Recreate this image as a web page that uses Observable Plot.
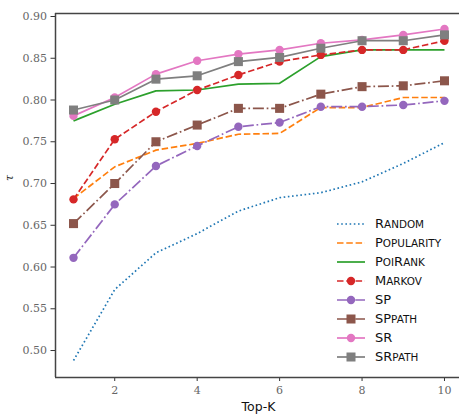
<!DOCTYPE html>
<html>
<head>
<meta charset="utf-8">
<script src="https://cdn.jsdelivr.net/npm/d3@7"></script>
<script src="https://cdn.jsdelivr.net/npm/@observablehq/plot@0.6"></script>
<style>
  body { margin: 0; background: white; }
  #wrap { position: relative; width: 459px; height: 415px; overflow: hidden; }
  #wrap svg text { font-family: "DejaVu Serif", serif !important; }
  .legend { position: absolute; left: 336px; top: 214px; font-family: "DejaVu Sans", sans-serif; font-size: 13px; color: #111; white-space: nowrap; }
  .legend .row { display: flex; align-items: center; height: 19px; }
  .legend svg { margin-right: 9px; }
  .legend .sc { font-size: 10.4px; }
  .xlabel { position: absolute; left: 0; width: 517px; top: 399px; text-align: center; font-family: "DejaVu Sans", sans-serif; font-size: 12.5px; color: #111; }
  .ylabel { position: absolute; left: 7px; top: 172px; line-height: 12px; font-family: "DejaVu Serif", serif; font-style: italic; font-size: 11px; transform: rotate(-90deg); transform-origin: center; color: #222; }
</style>
</head>
<body>
<div id="wrap"></div>
<script>
const K = [1, 2, 3, 4, 5, 6, 7, 8, 9, 10];
const seriesNames = ["Random", "Popularity", "PoiRank", "Markov", "SP", "SPpath", "SR", "SRpath"];
const random     = [0.488, 0.573, 0.617, 0.640, 0.667, 0.683, 0.689, 0.702, 0.724, 0.749];
const popularity = [0.682, 0.720, 0.740, 0.748, 0.759, 0.760, 0.791, 0.791, 0.803, 0.803];
const poiRank    = [0.775, 0.795, 0.811, 0.812, 0.819, 0.820, 0.852, 0.860, 0.860, 0.860];
const markov     = [0.681, 0.753, 0.786, 0.812, 0.830, 0.846, 0.854, 0.860, 0.860, 0.871];
const sp         = [0.611, 0.675, 0.721, 0.745, 0.768, 0.773, 0.792, 0.792, 0.794, 0.799];
const spPath     = [0.652, 0.700, 0.750, 0.770, 0.790, 0.790, 0.807, 0.816, 0.817, 0.823];
const sr         = [0.781, 0.803, 0.831, 0.847, 0.855, 0.860, 0.868, 0.872, 0.878, 0.885];
const srPath     = [0.788, 0.800, 0.825, 0.829, 0.846, 0.851, 0.862, 0.871, 0.871, 0.878];
const xTicks = [2, 4, 6, 8, 10];
const yTicks = [0.50, 0.55, 0.60, 0.65, 0.70, 0.75, 0.80, 0.85, 0.90];

const values = [random, popularity, poiRank, markov, sp, spPath, sr, srPath];
const colors = ["#1f77b4", "#ff7f0e", "#2ca02c", "#d62728", "#9467bd", "#8c564b", "#e377c2", "#7f7f7f"];
const dashes = ["1.6,2.6", "6.5,2.8", null, "6.5,2.8", "11,2.8,1.7,2.8", "11,2.8,1.7,2.8", null, null];
const markers = [null, null, null, "circle", "circle", "square", "circle", "square"];

const xDomain = [0.563, 10.364];
const yDomain = [0.4677, 0.9036];

const marks = [];
values.forEach((vals, i) => {
  const data = K.map((k, j) => ({k, v: vals[j], s: seriesNames[i]}));
  marks.push(Plot.line(data, {x: "k", y: "v", stroke: colors[i], strokeWidth: 1.7, strokeDasharray: dashes[i], strokeLinecap: "butt"}));
  if (markers[i] === "circle") marks.push(Plot.dot(data, {x: "k", y: "v", r: 4.2, fill: colors[i], stroke: "none"}));
  if (markers[i] === "square") marks.push(Plot.dot(data, {x: "k", y: "v", r: 5.1, symbol: "square", fill: colors[i], stroke: "none"}));
});

const serif = "DejaVu Serif";
const chart = Plot.plot({
  width: 459,
  height: 415,
  marginLeft: 55,
  marginRight: 0,
  marginTop: 13,
  marginBottom: 38,
  style: {fontFamily: serif, fontSize: "11px", background: "white", color: "#555"},
  x: {domain: xDomain},
  y: {domain: yDomain},
  marks: [
    Plot.axisX({ticks: xTicks, tickSize: 4, tickPadding: 5, label: null, fontSize: 11, fontFamily: serif, stroke: "#333", fill: "#666"}),
    Plot.axisY({ticks: yTicks, tickSize: 4.5, tickPadding: 4, tickFormat: d3.format(".2f"), label: null, fontSize: 11, fontFamily: serif, stroke: "#333", fill: "#666"}),
    ...marks,
    Plot.ruleX([xDomain[0]], {stroke: "#444", strokeWidth: 1.5}),
    Plot.ruleY([yDomain[0], yDomain[1]], {stroke: "#444", strokeWidth: 1.5})
  ]
});

const wrap = document.getElementById("wrap");
wrap.appendChild(chart);

// small-caps rendering: uppercase letters full size, lowercase as reduced capitals
function smallCaps(name) {
  return name.replace(/[a-z]+/g, m => `<span class="sc">${m.toUpperCase()}</span>`);
}

const leg = document.createElement("div");
leg.className = "legend";
values.forEach((v, i) => {
  const row = document.createElement("div");
  row.className = "row";
  let mk = "";
  if (markers[i] === "circle") mk = `<circle cx="15" cy="5" r="4.2" fill="${colors[i]}"/>`;
  if (markers[i] === "square") mk = `<rect x="10.5" y="0.5" width="9" height="9" fill="${colors[i]}"/>`;
  row.innerHTML = `<svg width="30" height="10"><line x1="1" x2="29" y1="5" y2="5" stroke="${colors[i]}" stroke-width="1.7" ${dashes[i] ? `stroke-dasharray="${dashes[i]}"` : ""}/>${mk}</svg><span>${smallCaps(seriesNames[i])}</span>`;
  leg.appendChild(row);
});
wrap.appendChild(leg);

const xl = document.createElement("div");
xl.className = "xlabel";
xl.textContent = "Top-K";
wrap.appendChild(xl);

const yl = document.createElement("div");
yl.className = "ylabel";
yl.textContent = "τ";
wrap.appendChild(yl);
</script>
</body>
</html>
